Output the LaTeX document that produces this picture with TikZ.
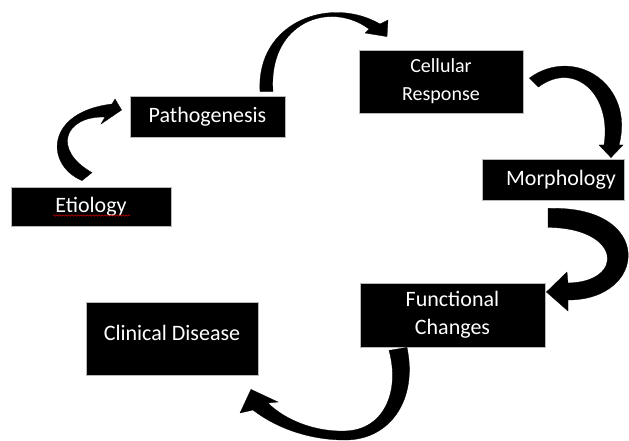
\documentclass[tikz,border=0pt]{standalone}
\usepackage{fontspec}
\setmainfont{Carlito}
\usetikzlibrary{calc,decorations.pathmorphing}

\begin{document}
\begin{tikzpicture}[x=1pt,y=-1pt,
  stage/.style={fill=black, draw=gray!55, line width=0.8pt, text=white,
    inner sep=0pt, align=center, font=\fontsize{22}{28}\selectfont},
  blockarrow/.style={fill=black, draw=black, line width=0.3pt, line join=miter}]
\useasboundingbox (0,0) rectangle (629,441);

% stages of the disease process
\node[stage, minimum width=160, minimum height=39] (etio) at (91,206.5) {Etiology};
\node[stage, minimum width=155, minimum height=41] (patho) at (207.5,116.5) {Pathogenesis};
\node[stage, minimum width=164, minimum height=63, font=\fontsize{20}{28}\selectfont] (cell) at (441,81.5) {Cellular\\Response};
\node[stage, minimum width=142, minimum height=41] (morph) at (553,179.5) {\hspace*{16pt}Morphology};
\node[stage, minimum width=185, minimum height=64] (func) at (452.5,315) {Functional\\Changes};
\node[stage, minimum width=172, minimum height=73, text depth=12pt] (clin) at (172,338.5) {Clinical Disease};

% spell-check squiggle under the first label
\draw[red!75!black, line width=0.6pt, decorate,
  decoration={snake, amplitude=0.7pt, segment length=3pt}]
  ($(etio.center)+(-38,9)$) -- ($(etio.center)+(39,9)$);

% curved block arrows between the stages
\fill[blockarrow] ($(etio.north)+(-9,-6)$) .. controls (45,165) and (45,112) .. (112,104)
  -- (115,99) -- ($(patho.west)+(-8,-6.5)$) -- (101,124) -- (105,117)
  .. controls (64,116) and (52,150) .. ($(etio.north)+(1,-14)$) -- cycle;

\fill[blockarrow] ($(patho.north)+(52.5,-4)$) .. controls (256,22) and (330,-5) .. (380,24)
  -- (388,20) -- ($(cell.north)+(-54,-13)$) -- (365,33) -- (369,29)
  .. controls (330,0) and (268,22) .. ($(patho.north)+(65.5,-4)$) -- cycle;

\fill[blockarrow] ($(cell.east)+(6,-3.5)$) .. controls (575,45) and (635,85) .. (619,145)
  -- (623,145) -- ($(morph.north)+(58,-1)$) -- (599,145) -- (604,145)
  .. controls (612,95) and (575,60) .. ($(cell.east)+(15,5.5)$) -- cycle;

\fill[blockarrow] ($(morph.south)+(-5,8)$) .. controls (655,205) and (648,300) .. (568,300)
  -- (568,311) -- ($(func.east)+(1,-23)$) -- (567,272) -- (568,283)
  .. controls (625,282) and (622,228) .. ($(morph.south)+(-5,27)$) -- cycle;

\fill[blockarrow] ($(func.south)+(-45.5,0)$) .. controls (418,400) and (390,440) .. (345,440)
  .. controls (305,440) and (272,425) .. (253,410)
  -- (240,413) -- ($(clin.south)+(79,14)$) -- (278,402) -- (268,403)
  .. controls (285,420) and (315,432) .. (345,431)
  .. controls (385,430) and (400,390) .. ($(func.south)+(-63.5,3)$) -- cycle;
\end{tikzpicture}
\end{document}
